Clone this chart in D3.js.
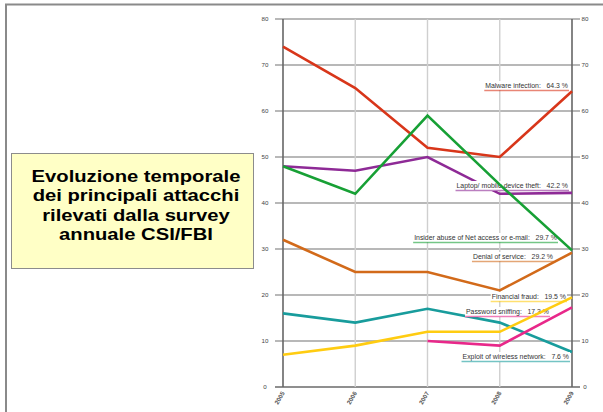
<!DOCTYPE html>
<html>
<head>
<meta charset="utf-8">
<script src="https://cdn.jsdelivr.net/npm/d3@7"></script>
<style>
  body { margin: 0; background: #fff; }
  svg { display: block; }
</style>
</head>
<body>
<svg id="chart" width="603" height="412"></svg>
<script>
var years = [2005, 2006, 2007, 2008, 2009];
var yTicks = [0, 10, 20, 30, 40, 50, 60, 70, 80];

var malware = [74, 65, 52, 50, 64.3];
var laptop = [48, 47, 50, 42, 42.2];
var insider = [48, 42, 59, 44, 29.7];
var denial = [32, 25, 25, 21, 29.2];
var fraud = [7, 9, 12, 12, 19.5];
var sniffing = [null, null, 10, 9, 17.3];
var wireless = [16, 14, 17, 14, 7.6];

var seriesNames = ["Malware infection", "Laptop/ mobile device theft", "Insider abuse of Net access or e-mail",
    "Denial of service", "Financial fraud", "Password sniffing", "Exploit of wireless network"];
var titleLines = ["Evoluzione temporale", "dei principali attacchi", "rilevati dalla survey", "annuale CSI/FBI"];

var colors = {
    "malware": "#d8361a",
    "laptop": "#8e2a96",
    "insider": "#17a035",
    "denial": "#d26a1a",
    "fraud": "#ffcc11",
    "sniffing": "#e8288a",
    "wireless": "#189c9c"
};

(function () {
    'use strict';
    var svg = d3.select("#chart");

    // page frame
    svg.append("line").attr("x1", 5).attr("x2", 603).attr("y1", 4.5).attr("y2", 4.5)
        .attr("stroke", "#8a8a8a").attr("stroke-width", 2);
    svg.append("line").attr("x1", 6).attr("x2", 6).attr("y1", 4).attr("y2", 412)
        .attr("stroke", "#8a8a8a").attr("stroke-width", 2);

    // title box
    var box = svg.append("g");
    box.append("rect").attr("x", 11.5).attr("y", 153.5).attr("width", 242).attr("height", 115)
        .attr("fill", "#ffffc6").attr("stroke", "#8c8c8c").attr("stroke-width", 1);
    var titleG = box.append("g");
    titleG.selectAll("text").data(titleLines).enter().append("text")
        .attr("x", 0).attr("y", function (d, i) { return 182 + i * 19.3; })
        .attr("text-anchor", "middle")
        .attr("font-family", "Liberation Sans, Arial, sans-serif")
        .attr("font-weight", "bold").attr("font-size", "16.5px")
        .attr("fill", "#000")
        .text(function (d) { return d; });
    // the original slide text is stretched sideways
    var w0 = titleG.select("text").node().getBBox().width;
    titleG.attr("transform", "translate(136,0) scale(" + (209 / w0) + ",1)");

    var x = d3.scalePoint().domain(years).range([283, 572]);
    var y = d3.scaleLinear().domain([0, 80]).range([387, 19]);

    var chart = svg.append("g");

    // horizontal grid
    chart.selectAll(".hgrid").data(yTicks).enter().append("line")
        .attr("x1", 275).attr("x2", 580)
        .attr("y1", function (d) { return y(d); }).attr("y2", function (d) { return y(d); })
        .attr("stroke", function (d) { return d === 0 ? "#8f8f8f" : "#a0a0a0"; })
        .attr("stroke-width", function (d) { return d === 0 ? 2.2 : 1.6; });

    // vertical grid
    chart.selectAll(".vgrid").data(years).enter().append("line")
        .attr("x1", function (d) { return x(d); }).attr("x2", function (d) { return x(d); })
        .attr("y1", y(80)).attr("y2", y(0))
        .attr("stroke", function (d, i) { return (i === 0 || i === years.length - 1) ? "#666" : "#cfcfcf"; })
        .attr("stroke-width", function (d, i) { return (i === 0 || i === years.length - 1) ? 1.6 : 1.4; });

    // tick labels
    var tickFont = "Liberation Sans Narrow, Arial Narrow, Liberation Sans, sans-serif";
    chart.selectAll(".ly").data(yTicks).enter().append("text")
        .attr("x", 265).attr("y", function (d) { return y(d) + 2; })
        .attr("text-anchor", "middle").attr("font-family", tickFont)
        .attr("font-size", "6.2px").attr("fill", "#444")
        .text(function (d) { return d; });
    chart.selectAll(".ry").data(yTicks).enter().append("text")
        .attr("x", 585).attr("y", function (d) { return y(d) + 2; })
        .attr("text-anchor", "middle").attr("font-family", tickFont)
        .attr("font-size", "6.2px").attr("fill", "#444")
        .text(function (d) { return d; });
    chart.selectAll(".lx").data(years).enter().append("text")
        .attr("transform", function (d) { return "translate(" + (x(d) + 2) + ",393) rotate(-60)"; })
        .attr("text-anchor", "end").attr("font-family", tickFont)
        .attr("font-size", "6.2px").attr("font-weight", "bold").attr("fill", "#555")
        .text(function (d) { return d; });

    var line = d3.line()
        .defined(function (d) { return d != null; })
        .x(function (d, i) { return x(years[i]); })
        .y(function (d) { return y(d); });

    function drawSeries(values, color) {
        chart.append("path").datum(values)
            .attr("d", line)
            .attr("fill", "none")
            .attr("stroke", color)
            .attr("stroke-width", 2.6)
            .attr("stroke-linejoin", "miter");
    }

    var labels = [
        { name: seriesNames[0], value: 64.3, color: colors.malware, right: 568, y: 88 },
        { name: seriesNames[1], value: 42.2, color: colors.laptop, right: 568, y: 188 },
        { name: seriesNames[2], value: 29.7, color: colors.insider, right: 557, y: 240 },
        { name: seriesNames[3], value: 29.2, color: colors.denial, right: 553, y: 259 },
        { name: seriesNames[4], value: 19.5, color: colors.fraud, right: 566, y: 299 },
        { name: seriesNames[5], value: 17.3, color: colors.sniffing, right: 549, y: 314 },
        { name: seriesNames[6], value: 7.6, color: colors.wireless, right: 569, y: 359 }
    ];

    // series hidden partly behind label boxes
    drawSeries(laptop, colors.laptop);
    drawSeries(wireless, colors.wireless);

    var lab = chart.append("g");
    var texts = [];
    labels.forEach(function (d) {
        var g = lab.append("g");
        var bg = g.append("rect").attr("fill", "#fff");
        var t = g.append("text")
            .attr("x", d.right).attr("y", d.y)
            .attr("text-anchor", "end")
            .attr("font-family", tickFont)
            .attr("font-size", "6.9px").attr("fill", "#333")
            .attr("xml:space", "preserve")
            .text(d.name + ":   " + d.value + " %");
        var bb = t.node().getBBox();
        bg.attr("x", bb.x - 1).attr("y", bb.y - 1).attr("width", bb.width + 2).attr("height", bb.height + 2);
        texts.push({ g: g, bb: bb, d: d });
    });

    drawSeries(malware, colors.malware);
    drawSeries(insider, colors.insider);
    drawSeries(denial, colors.denial);
    drawSeries(fraud, colors.fraud);
    drawSeries(sniffing, colors.sniffing);

    // labels on top with coloured underline
    texts.forEach(function (o) {
        lab.node().appendChild(o.g.node());
        o.g.append("line")
            .attr("x1", o.bb.x - 1).attr("x2", o.bb.x + o.bb.width + 1)
            .attr("y1", o.d.y + 2.5).attr("y2", o.d.y + 2.5)
            .attr("stroke", o.d.color).attr("stroke-opacity", 0.6).attr("stroke-width", 1.3);
    });
})();
</script>
</body>
</html>
